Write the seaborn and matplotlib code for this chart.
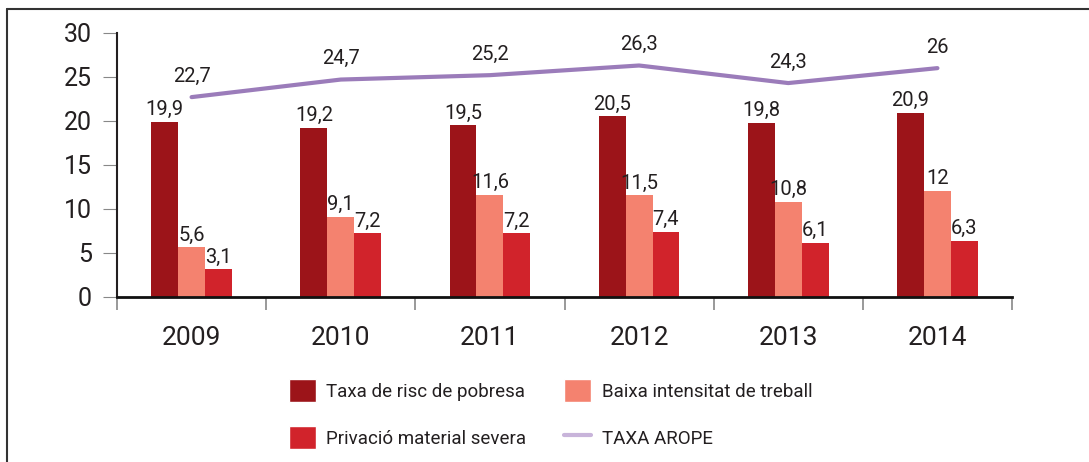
import matplotlib
matplotlib.use("Agg")
import matplotlib.pyplot as plt
from matplotlib.lines import Line2D
from matplotlib.patches import Patch
from matplotlib.ticker import FixedLocator
import pandas as pd
import seaborn as sns

years = ["2009", "2010", "2011", "2012", "2013", "2014"]
risc_pobresa = [19.9, 19.2, 19.5, 20.5, 19.8, 20.9]
baixa_intensitat = [5.6, 9.1, 11.6, 11.5, 10.8, 12]
privacio_material = [3.1, 7.2, 7.2, 7.4, 6.1, 6.3]
taxa_arope = [22.7, 24.7, 25.2, 26.3, 24.3, 26]

series_names = ["Taxa de risc de pobresa", "Baixa intensitat de treball",
                "Privació material severa"]
bar_colors = ["#9c1419", "#f4826f", "#d1232b"]
line_color = "#9b7cba"
legend_line_color = "#c8b4da"
text_color = "#231f20"


def fmt(v):
    return f"{v:g}".replace(".", ",")


sns.set_style("white")
plt.rcParams["font.family"] = ["Roboto", "DejaVu Sans"]

df = pd.DataFrame({
    "year": years * 3,
    "series": [s for s in series_names for _ in years],
    "value": risc_pobresa + baixa_intensitat + privacio_material,
})

fig = plt.figure(figsize=(10.89, 4.62), dpi=100)
ax = fig.add_axes([117 / 1089, 165.5 / 462, 895 / 1089, 263.5 / 462])

sns.barplot(data=df, x="year", y="value", hue="series", palette=bar_colors,
            width=0.54, saturation=1, linewidth=0, legend=False, ax=ax)

sns.lineplot(x=years, y=taxa_arope, color=line_color, linewidth=3, ax=ax,
             solid_capstyle="round")

# value labels on bars
for container, vals in zip(ax.containers, [risc_pobresa, baixa_intensitat, privacio_material]):
    ax.bar_label(container, labels=[fmt(v) for v in vals], padding=2,
                 fontsize=14.5, color=text_color)

# value labels above the AROPE line
for i, v in enumerate(taxa_arope):
    ax.annotate(fmt(v), (i, v), xytext=(0, 15), textcoords="offset points",
                ha="center", va="center", fontsize=14.5, color=text_color)

ax.set_xlim(-0.5, len(years) - 0.5)
ax.set_ylim(0, 30)
ax.set_yticks(range(0, 31, 5))
ax.set_xlabel("")
ax.set_ylabel("")

for side in ["top", "right"]:
    ax.spines[side].set_visible(False)
ax.spines["left"].set_color("#231f20")
ax.spines["left"].set_linewidth(1.5)
ax.spines["bottom"].set_color("#111111")
ax.spines["bottom"].set_linewidth(2)

ax.tick_params(axis="y", direction="out", length=10, width=0.8, color="#888888",
               labelsize=18, pad=8, labelcolor=text_color, left=True)
ax.tick_params(axis="x", which="major", length=0, labelsize=19, pad=21,
               labelcolor=text_color)
ax.xaxis.set_minor_locator(FixedLocator([i - 0.5 for i in range(len(years) + 1)]))
ax.tick_params(axis="x", which="minor", direction="out", length=9.5, width=1.2,
               color="#888888", bottom=True)

handles = [
    Patch(facecolor=bar_colors[0], label=series_names[0]),
    Patch(facecolor=bar_colors[2], label=series_names[2]),
    Patch(facecolor=bar_colors[1], label=series_names[1]),
    Line2D([], [], color=legend_line_color, linewidth=3, label="TAXA AROPE"),
]
fig.legend(handles=handles, ncol=2, loc="upper left",
           bbox_to_anchor=(289 / 1089, 1 - 379 / 462), frameon=False,
           fontsize=13.5, handlelength=1.45, handleheight=1.55, handletextpad=0.55,
           labelspacing=1.25, columnspacing=2.0, borderpad=0, borderaxespad=0,
           labelcolor=text_color)

# frame lines of the original figure box
fig.add_artist(Line2D([7 / 1089, 1], [1 - 9 / 462, 1 - 9 / 462],
                      transform=fig.transFigure, color="#333333", linewidth=1.5))
fig.add_artist(Line2D([7 / 1089, 7 / 1089], [0, 1 - 9 / 462],
                      transform=fig.transFigure, color="#333333", linewidth=1.5))

fig.savefig("out.png", dpi=100)
